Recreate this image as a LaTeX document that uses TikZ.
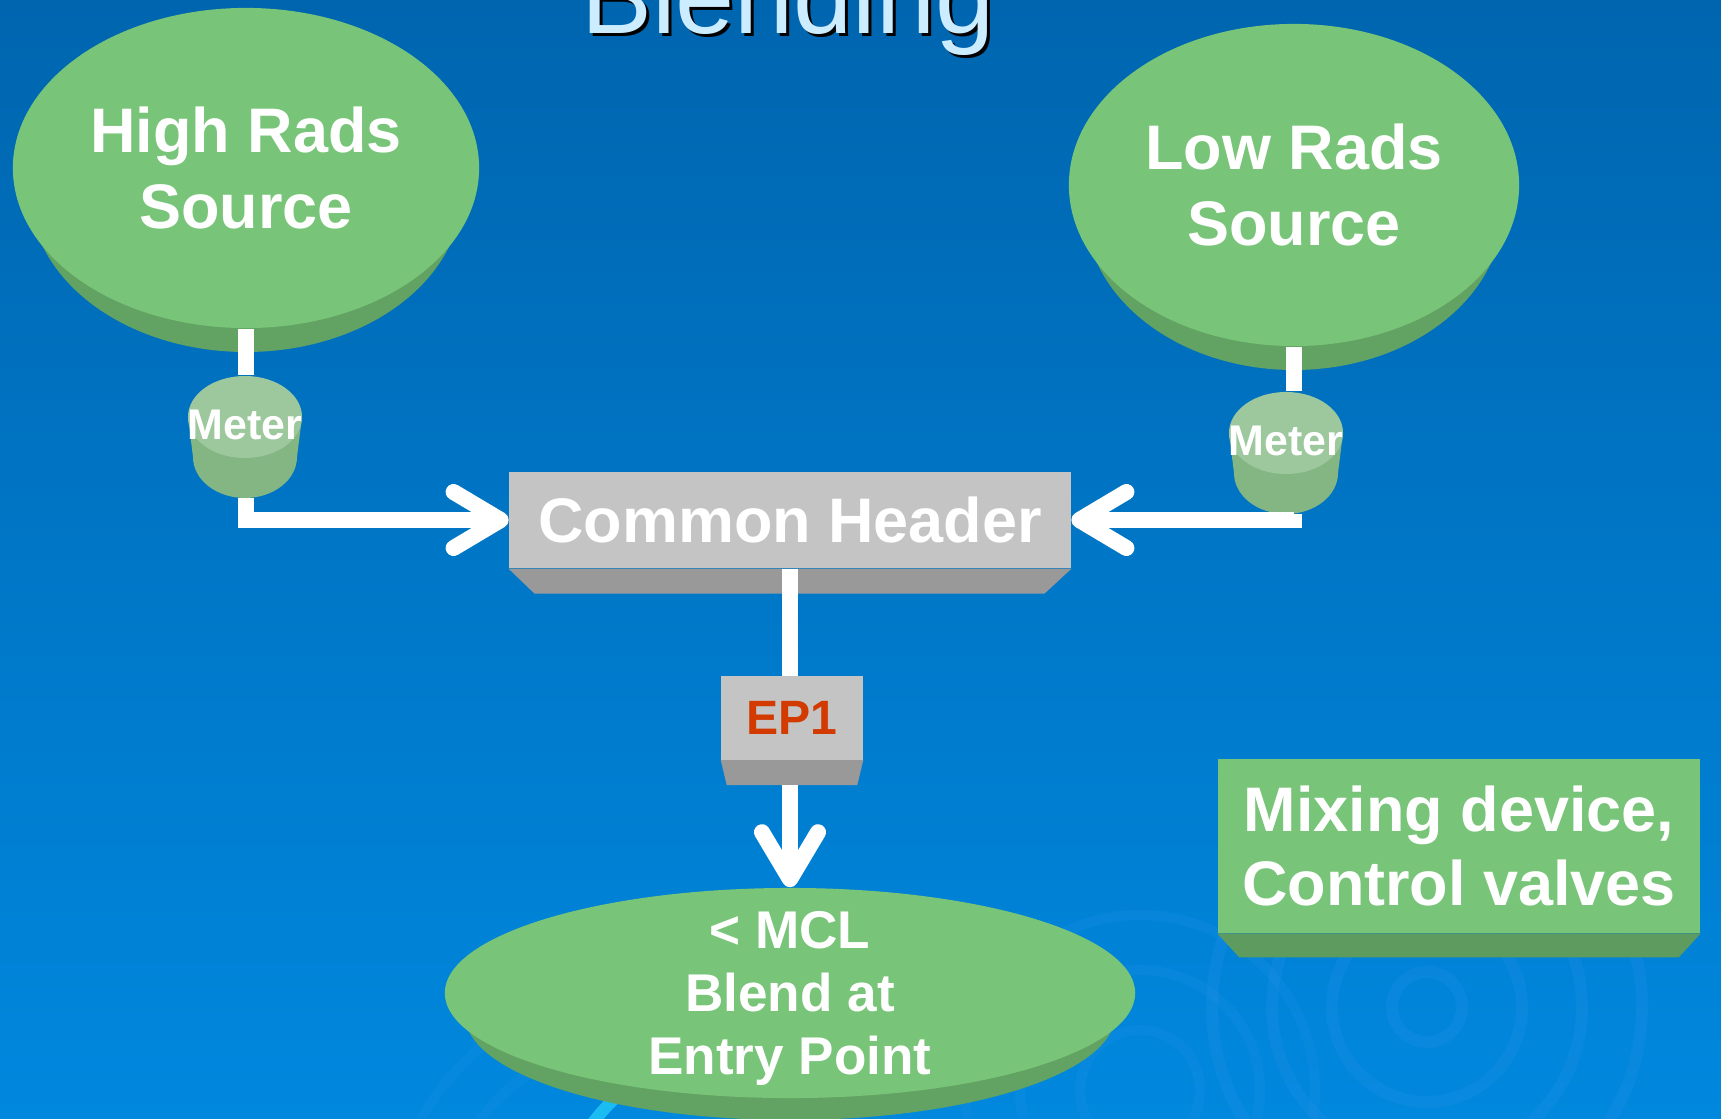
\documentclass[tikz,border=0pt]{standalone}
\usepackage{fontspec}
\setmainfont{Liberation Sans}
\usetikzlibrary{arrows.meta,calc,shapes.geometric}
\definecolor{bgtop}{HTML}{0065AF}
\definecolor{bgmid}{HTML}{006BB8}
\definecolor{bgbot}{HTML}{0088DE}
\definecolor{ripple}{HTML}{1A8EE4}
\definecolor{ripplecyan}{HTML}{1ABCF2}
\definecolor{leaf}{HTML}{78C478}
\definecolor{leafside}{HTML}{62A262}
\definecolor{boxside}{HTML}{5E9B5E}
\definecolor{meterface}{HTML}{9DC89D}
\definecolor{meterside}{HTML}{84B684}
\definecolor{steel}{HTML}{C4C4C4}
\definecolor{steelside}{HTML}{999999}
\definecolor{eptext}{HTML}{D23A00}
\definecolor{titleblue}{HTML}{CCECFF}

\tikzset{
  bigtext/.style={font=\bfseries\fontsize{17.9}{21.8}\selectfont, text=white, align=center},
  source/.style={ellipse, fill=leaf, bigtext, inner sep=0pt},
  meter/.style={ellipse, fill=meterface, minimum width=1.14cm, minimum height=0.82cm,
    inner xsep=-0.2cm, inner ysep=0pt, text=white, text height=0.45cm,
    font=\bfseries\fontsize{12.2}{14}\selectfont},
  box/.style={rectangle, fill=steel, bigtext, inner sep=0pt},
  pipe/.style={draw=white, line width=0.16cm},
  flow/.style={pipe, -{Straight Barb[length=0.47cm, width=0.56cm, round]}},
  titletext/.style={font=\fontsize{30.2}{36}\selectfont, anchor=base},
}

\begin{document}
\begin{tikzpicture}[x=0.01cm, y=-0.01cm]
	\useasboundingbox (0,0) rectangle (1721,1118);
	\clip (0,0) rectangle (1721,1118);
	\shade[top color=bgtop, middle color=bgmid, bottom color=bgbot] (0,0) rectangle (1721,1118);

	% ripples in the water
	\foreach \r in {35,95,155,215}
		\draw[ripple, line width=0.12cm, opacity=0.35] (1427,1007) circle (\r);
	\foreach \r in {60,120,175}
		\draw[ripple, line width=0.10cm, opacity=0.3] (1140,1090) circle (\r);
	\foreach \r in {200,250}
		\draw[ripple, line width=0.10cm, opacity=0.25] (640,1240) circle (\r);
	\draw[ripplecyan, line width=0.12cm] (760,1250) ++(200:210) arc[start angle=200, end angle=240, radius=210];

	% title, cut off at the top
	\node[titletext, text=black] (titleshadow) at (791,37) {Blending};
	\node[titletext, text=titleblue] (title) at (788,33) {Blending};

	% sources
	\fill[leafside] (246,192) ellipse (216 and 160);
	\node[source, minimum width=4.66cm, minimum height=3.2cm] (high) at (246,168) {High Rads\\Source};
	\fill[leafside] (1294,209) ellipse (209 and 161);
	\node[source, minimum width=4.5cm, minimum height=3.22cm] (low) at (1294,185) {Low Rads\\Source};

	% meters
	\fill[meterside] (188,417) -- (193,457) arc[start angle=180, end angle=0, x radius=52, y radius=41] -- (302,417) -- cycle;
	\node[meter] (mL) at (245,417) {Meter};
	\fill[meterside] (1229,433) -- (1234,473) arc[start angle=180, end angle=0, x radius=52, y radius=41] -- (1343,433) -- cycle;
	\node[meter] (mR) at (1286,433) {Meter};

	% header and entry point
	\node[box, minimum width=5.61cm, minimum height=0.96cm] (hdr) at (790,520) {Common Header};
	\fill[steelside] (hdr.south west) -- (hdr.south east) -- ++(-27,25) -- ($(hdr.south west)+(26,25)$) -- cycle;
	\node[box, text=eptext, font=\bfseries\fontsize{13.7}{16}\selectfont, minimum width=1.41cm, minimum height=0.83cm] (ep) at (792,718) {EP1};
	\fill[steelside] (ep.south west) -- (ep.south east) -- ++(-6,25) -- ($(ep.south west)+(6,25)$) -- cycle;

	% blend
	\fill[leafside] (790,1015) ellipse (325 and 105);
	\node[source, minimum width=6.9cm, minimum height=2.1cm, inner ysep=-0.1cm, text depth=0pt,
		font=\bfseries\fontsize{15.1}{17.9}\selectfont] (mcl) at (790,993) {< MCL\\Blend at\\Entry Point};

	\node[box, fill=leaf, font=\bfseries\fontsize{17.9}{21.3}\selectfont, minimum width=4.82cm, minimum height=1.73cm] (mix) at (1459,846) {Mixing device,\\Control valves};
	\fill[boxside] (mix.south west) -- (mix.south east) -- ++(-22,24) -- ($(mix.south west)+(22,24)$) -- cycle;

	% pipes
	\coordinate (mLb) at (246,498);
	\coordinate (mRb) at (1294,514);
	\coordinate (epb) at (790,785);
	\draw[pipe] (high.south) -- (high.south |- mL.north);
	\draw[pipe] (low.south) -- (low.south |- mR.north);
	\draw[flow] (mLb) |- (hdr.west);
	\draw[flow] (mRb) |- (hdr.east);
	\draw[pipe] (hdr.south) -- (hdr.south |- ep.north);
	\draw[flow] (epb) -- (mcl.north);
\end{tikzpicture}
\end{document}
